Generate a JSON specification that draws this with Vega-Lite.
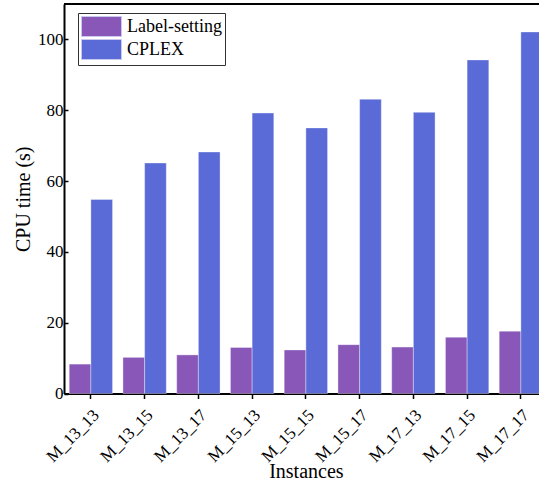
{
  "$schema": "https://vega.github.io/schema/vega-lite/v6.json",
  "width": 475,
  "height": 389.5,
  "autosize": {"type": "none"},
  "padding": {"left": 64, "top": 4, "right": 0, "bottom": 91.5},
  "background": "white",
  "config": {"view": {"stroke": null}, "font": "Liberation Serif"},
  "data": {
    "values": [
      {"instance": "M_13_13", "method": "Label-setting", "time": 8.3},
      {"instance": "M_13_13", "method": "CPLEX", "time": 54.8},
      {"instance": "M_13_15", "method": "Label-setting", "time": 10.2},
      {"instance": "M_13_15", "method": "CPLEX", "time": 65.1},
      {"instance": "M_13_17", "method": "Label-setting", "time": 10.9},
      {"instance": "M_13_17", "method": "CPLEX", "time": 68.2},
      {"instance": "M_15_13", "method": "Label-setting", "time": 13.0},
      {"instance": "M_15_13", "method": "CPLEX", "time": 79.2},
      {"instance": "M_15_15", "method": "Label-setting", "time": 12.3},
      {"instance": "M_15_15", "method": "CPLEX", "time": 75.0},
      {"instance": "M_15_17", "method": "Label-setting", "time": 13.8},
      {"instance": "M_15_17", "method": "CPLEX", "time": 83.1},
      {"instance": "M_17_13", "method": "Label-setting", "time": 13.1},
      {"instance": "M_17_13", "method": "CPLEX", "time": 79.4},
      {"instance": "M_17_15", "method": "Label-setting", "time": 15.9},
      {"instance": "M_17_15", "method": "CPLEX", "time": 94.2},
      {"instance": "M_17_17", "method": "Label-setting", "time": 17.6},
      {"instance": "M_17_17", "method": "CPLEX", "time": 102.1}
    ]
  },
  "layer": [
    {
      "mark": {"type": "bar", "stroke": "white", "strokeOpacity": 0.35, "strokeWidth": 1},
      "encoding": {
        "x": {
          "field": "instance", "type": "nominal", "sort": null,
          "scale": {"range": [0, 483.75], "paddingInner": 0, "paddingOuter": 0},
          "axis": {
            "title": "Instances", "titleFontSize": 20, "titleFontWeight": "normal", "titleColor": "black",
            "titleFont": "Liberation Serif", "labelFont": "Liberation Serif",
            "titlePadding": -3,
            "labelAngle": -45, "labelAlign": "right", "labelBaseline": "top",
            "labelFontSize": 17, "labelColor": "black", "labelPadding": 8,
            "tickSize": 5, "tickColor": "black", "tickWidth": 1.5,
            "domainColor": "black", "domainWidth": 2
          }
        },
        "xOffset": {
          "field": "method", "type": "nominal",
          "scale": {"domain": ["Label-setting", "CPLEX"], "paddingInner": 0, "paddingOuter": 0.24}
        },
        "y": {
          "field": "time", "type": "quantitative",
          "scale": {"domain": [0, 110], "nice": false},
          "axis": {
            "title": "CPU time (s)", "titleFontSize": 20, "titleFontWeight": "normal", "titleColor": "black",
            "titleFont": "Liberation Serif", "labelFont": "Liberation Serif",
            "titlePadding": 4,
            "values": [0, 10, 20, 30, 40, 50, 60, 70, 80, 90, 100],
            "labelExpr": "datum.value % 20 === 0 ? datum.label : ''",
            "labelFontSize": 17, "labelColor": "black", "labelPadding": 5,
            "tickSize": -4, "tickColor": "black", "tickWidth": 1.5,
            "domainColor": "black", "domainWidth": 2, "grid": false
          }
        },
        "color": {
          "field": "method", "type": "nominal",
          "scale": {"domain": ["Label-setting", "CPLEX"], "range": ["#8957B8", "#5A6AD6"]},
          "legend": {
            "title": null, "orient": "none", "legendX": 14, "legendY": 9,
            "symbolType": "M-1,-1H3V1H-1Z", "symbolSize": 400,
            "symbolStrokeColor": "#c8c8f0", "symbolStrokeWidth": 1, "symbolOpacity": 1,
            "labelFont": "Liberation Serif",
            "labelFontSize": 18, "labelColor": "black", "labelOffset": 25, "labelLimit": 300,
            "rowPadding": -3, "strokeColor": "#333333", "fillColor": "white", "padding": 3
          }
        }
      }
    },
    {
      "mark": {"type": "rule", "color": "black", "strokeWidth": 1.5},
      "encoding": {"y": {"datum": 110}}
    }
  ]
}
